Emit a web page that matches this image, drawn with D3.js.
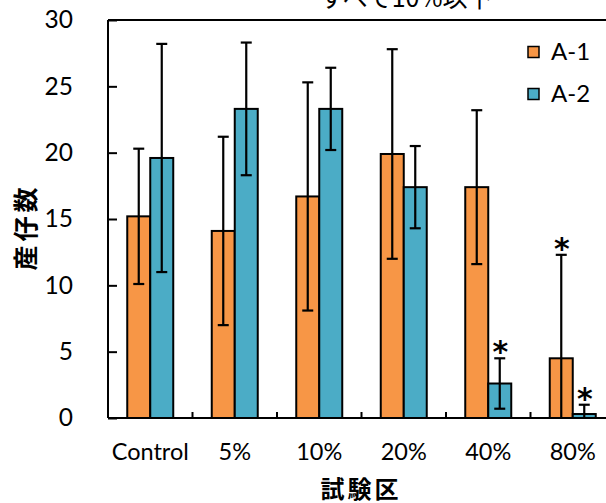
<!DOCTYPE html>
<html><head><meta charset="utf-8">
<script src="https://cdn.jsdelivr.net/npm/d3@7"></script>
<style>body{margin:0;background:#fff}svg{display:block}</style>
</head><body>
<svg id="c" width="606" height="503"></svg>
<script>
const categories = ["Control","5%","10%","20%","40%","80%"];
const seriesNames = ["A-1","A-2"];
const a1Mean = [15.2, 14.1, 16.7, 19.9, 17.4, 4.5];
const a1Sd   = [5.1, 7.1, 8.6, 7.9, 5.8, 7.8];
const a2Mean = [19.6, 23.3, 23.3, 17.4, 2.6, 0.3];
const a2Sd   = [8.6, 5.0, 3.1, 3.1, 1.9, 0.7];
const a1Star = [false,false,false,false,false,true];
const a2Star = [false,false,false,false,true,true];
const yTicks = [0,5,10,15,20,25,30];
const colors = ["#F79646","#4BACC6"];
const title = "すべて10%以下";
const yTitle = "産仔数";
const xTitle = "試験区";

const latin = "Lato, 'Open Sans', sans-serif";
const cjk = "'Noto Sans CJK JP', sans-serif";
const svg = d3.select("#c");
const pL = 108, pR = 615, pT = 20, pB = 418;

const x = d3.scaleBand().domain(categories).range([pL, pR]);
const xs = d3.scaleBand().domain(seriesNames).range([0, x.bandwidth()]).paddingInner(0).paddingOuter(0.837);
const y = d3.scaleLinear().domain([0,30]).range([pB, pT]);

const series = [
  {name:"A-1", mean:a1Mean, sd:a1Sd, star:a1Star},
  {name:"A-2", mean:a2Mean, sd:a2Sd, star:a2Star}
];

// top border
svg.append("line").attr("x1", pL).attr("x2", 606).attr("y1", y(30)).attr("y2", y(30))
  .attr("stroke","#000").attr("stroke-width",2);

// bars
series.forEach((s,si)=>{
  const g = svg.append("g");
  categories.forEach((c,i)=>{
    const bx = x(c)+xs(s.name);
    g.append("rect").attr("x",bx).attr("y",y(s.mean[i])).attr("width",xs.bandwidth())
      .attr("height", y(0)-y(s.mean[i])).attr("fill",colors[si]).attr("stroke","#000").attr("stroke-width",2);
  });
});
// error bars
series.forEach((s,si)=>{
  categories.forEach((c,i)=>{
    const cx = x(c)+xs(s.name)+xs.bandwidth()/2;
    const hi = s.mean[i]+s.sd[i], lo = s.mean[i]-s.sd[i];
    const yl = lo < 0 ? y(0) : y(lo);
    svg.append("line").attr("x1",cx).attr("x2",cx).attr("y1",y(hi)).attr("y2",yl).attr("stroke","#000").attr("stroke-width",2.2);
    svg.append("line").attr("x1",cx-5.5).attr("x2",cx+5.5).attr("y1",y(hi)).attr("y2",y(hi)).attr("stroke","#000").attr("stroke-width",2.2);
    if (lo >= 0) svg.append("line").attr("x1",cx-5.5).attr("x2",cx+5.5).attr("y1",y(lo)).attr("y2",y(lo)).attr("stroke","#000").attr("stroke-width",2.2);
    if (s.star[i]) svg.append("text").attr("x",cx+0.5).attr("y",y(hi)+4).attr("text-anchor","middle")
      .attr("font-family","'DejaVu Sans', sans-serif").attr("font-weight","bold").attr("font-size",30).text("*");
  });
});

// y axis
const ya = d3.axisLeft(y).tickValues(yTicks).tickSize(-9).tickPadding(35);
const gy = svg.append("g").attr("transform",`translate(${pL},0)`).call(ya);
gy.select(".domain").attr("stroke-width",2).attr("d",`M0,${pT}V${pB}`);
gy.selectAll(".tick line").attr("stroke-width",2);
gy.selectAll("text").attr("font-family",latin).attr("font-size",24.5).attr("fill","#000");

// x axis
const xa = d3.axisBottom(x).tickSize(0).tickPadding(25);
const gx = svg.append("g").attr("transform",`translate(0,${pB})`).call(xa);
gx.select(".domain").attr("stroke-width",2).attr("d",`M${pL},0H${pR}`);
gx.selectAll("text").attr("font-family",latin).attr("font-size",23.5).attr("fill","#000");
svg.append("g").selectAll("line").data(categories.slice(1)).join("line")
  .attr("x1",d=>x(d)).attr("x2",d=>x(d)).attr("y1",pB).attr("y2",pB-6).attr("stroke","#000").attr("stroke-width",2);

// titles
svg.append("text").attr("x",406).attr("y",7).attr("text-anchor","middle").attr("font-family",cjk)
  .attr("font-size",25).text(title);
svg.append("text").attr("transform","translate(35,227) rotate(-90)").attr("text-anchor","middle")
  .attr("font-family",cjk).attr("font-weight","bold").attr("font-size",25).attr("letter-spacing",4).text(yTitle);
svg.append("text").attr("x",361).attr("y",498).attr("text-anchor","middle")
  .attr("font-family",cjk).attr("font-weight","bold").attr("font-size",24).attr("letter-spacing",3).text(xTitle);

// legend
series.forEach((s,si)=>{
  const ly = 52 + si*42;
  svg.append("rect").attr("x",528).attr("y",ly-5.5).attr("width",11).attr("height",11)
    .attr("fill",colors[si]).attr("stroke","#000").attr("stroke-width",1.5);
  svg.append("text").attr("x",551).attr("y",ly).attr("dy","0.35em").attr("font-family",latin)
    .attr("font-size",24).text(s.name);
});
</script>
</body></html>
